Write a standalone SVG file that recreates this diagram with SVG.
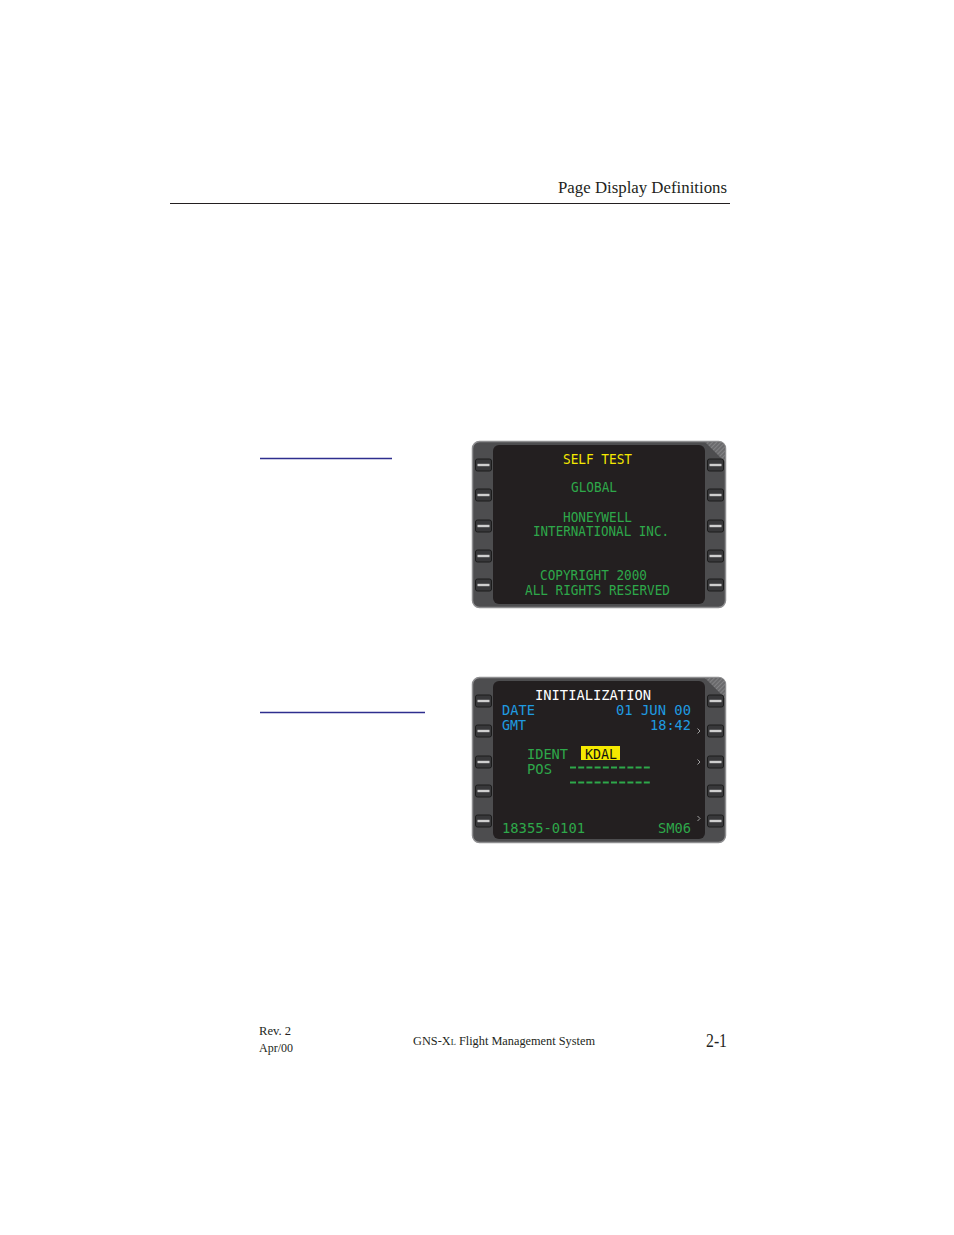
<svg xmlns="http://www.w3.org/2000/svg" width="954" height="1235" viewBox="0 0 954 1235">
<style>
.serif{font-family:"Liberation Serif","Times New Roman",serif;fill:#231f20}
.mono{font-family:"DejaVu Sans Mono","Liberation Mono",monospace;font-size:14.5px}
.g{fill:#2ea84a}.y{fill:#f5e900}.b{fill:#1f9be0}.w{fill:#ffffff}.k{fill:#111}
.bezel{fill:#4d4d4f;stroke:#8e8e90;stroke-width:1.5}
.screen{fill:#231f20}
.btn{fill:#38383a;stroke:#1c1c1c;stroke-width:1}
.bar{fill:#cfcfcf}
.chev{fill:none;stroke:#b0b0b0;stroke-width:0.9}
.link{stroke:#2e2e8e;stroke-width:1.3}
.dash{stroke:#2ea84a;stroke-width:2.2;stroke-dasharray:6 2.2}
</style>
<defs>
<pattern id="hatch" width="3" height="3" patternUnits="userSpaceOnUse" patternTransform="rotate(45)">
<rect width="3" height="3" fill="#6a6a6c"/>
<line x1="0" y1="0" x2="0" y2="3" stroke="#9a9a9c" stroke-width="1"/>
</pattern>
<g id="button"><rect class="btn" x="-8" y="-6" width="16" height="12" rx="2"/><rect class="bar" x="-6" y="-1.2" width="12" height="2.4"/></g>
</defs>

<g id="header">
<text class="serif" x="727" y="193" font-size="17" text-anchor="end" textLength="169" lengthAdjust="spacingAndGlyphs">Page Display Definitions</text>
<line x1="170" y1="203.5" x2="730" y2="203.5" stroke="#231f20" stroke-width="1"/>
</g>

<g id="links">
<line class="link" x1="260" y1="458.5" x2="392" y2="458.5"/>
<line class="link" x1="260" y1="712.5" x2="425" y2="712.5"/>
</g>

<g id="self-test-display">
<rect class="bezel" x="472.5" y="441.5" width="253" height="166" rx="7"/>
<path d="M705 442 L719 442 Q725 442 725 448 L725 462 Z" fill="url(#hatch)"/>
<rect class="screen" x="493" y="445" width="212" height="159" rx="6"/>
<use href="#button" x="483.5" y="465"/><use href="#button" x="483.5" y="495"/><use href="#button" x="483.5" y="526"/><use href="#button" x="483.5" y="556"/><use href="#button" x="483.5" y="585"/>
<use href="#button" x="715.5" y="465"/><use href="#button" x="715.5" y="495"/><use href="#button" x="715.5" y="526"/><use href="#button" x="715.5" y="556"/><use href="#button" x="715.5" y="585"/>
<text class="mono y" x="563" y="463.5" textLength="69" lengthAdjust="spacingAndGlyphs">SELF TEST</text>
<text class="mono g" x="571" y="491.5" textLength="46" lengthAdjust="spacingAndGlyphs">GLOBAL</text>
<text class="mono g" x="563" y="521.5" textLength="69" lengthAdjust="spacingAndGlyphs">HONEYWELL</text>
<text class="mono g" x="533" y="535.5" textLength="136" lengthAdjust="spacingAndGlyphs">INTERNATIONAL INC.</text>
<text class="mono g" x="540" y="579.5" textLength="107" lengthAdjust="spacingAndGlyphs">COPYRIGHT 2000</text>
<text class="mono g" x="525" y="594.5" textLength="145" lengthAdjust="spacingAndGlyphs">ALL RIGHTS RESERVED</text>
</g>

<g id="initialization-display">
<rect class="bezel" x="472.5" y="677.5" width="253" height="165" rx="7"/>
<path d="M705 678 L719 678 Q725 678 725 684 L725 698 Z" fill="url(#hatch)"/>
<rect class="screen" x="493" y="681" width="212" height="158" rx="6"/>
<use href="#button" x="483.5" y="701"/><use href="#button" x="483.5" y="731"/><use href="#button" x="483.5" y="762"/><use href="#button" x="483.5" y="791"/><use href="#button" x="483.5" y="821"/>
<use href="#button" x="715.5" y="701"/><use href="#button" x="715.5" y="731"/><use href="#button" x="715.5" y="762"/><use href="#button" x="715.5" y="791"/><use href="#button" x="715.5" y="821"/>
<text class="mono w" x="535" y="699.5" textLength="116" lengthAdjust="spacingAndGlyphs">INITIALIZATION</text>
<text class="mono b" x="502" y="714.5" textLength="33" lengthAdjust="spacingAndGlyphs">DATE</text>
<text class="mono b" x="616" y="714.5" textLength="75" lengthAdjust="spacingAndGlyphs">01 JUN 00</text>
<text class="mono b" x="502" y="729.5" textLength="24" lengthAdjust="spacingAndGlyphs">GMT</text>
<text class="mono b" x="650" y="729.5" textLength="41" lengthAdjust="spacingAndGlyphs">18:42</text>
<text class="mono g" x="527" y="758.5" textLength="41" lengthAdjust="spacingAndGlyphs">IDENT</text>
<rect x="581" y="746" width="39" height="14" fill="#f5e900"/>
<text class="mono k" x="585" y="758.5" textLength="32" lengthAdjust="spacingAndGlyphs">KDAL</text>
<text class="mono g" x="527" y="773.5" textLength="25" lengthAdjust="spacingAndGlyphs">POS</text>
<line class="dash" x1="570" y1="767.5" x2="652" y2="767.5"/>
<line class="dash" x1="570" y1="782.5" x2="652" y2="782.5"/>
<text class="mono g" x="502" y="832.5" textLength="83" lengthAdjust="spacingAndGlyphs">18355-0101</text>
<text class="mono g" x="658" y="832.5" textLength="33" lengthAdjust="spacingAndGlyphs">SM06</text>
<path class="chev" d="M697.5 728.5 L700 731 L697.5 733.5"/>
<path class="chev" d="M697.5 759.5 L700 762 L697.5 764.5"/>
<path class="chev" d="M697.5 816 L700 818.5 L697.5 821"/>
</g>

<g id="footer">
<text class="serif" x="259" y="1035" font-size="13" textLength="32" lengthAdjust="spacingAndGlyphs">Rev. 2</text>
<text class="serif" x="259" y="1052" font-size="13" textLength="34" lengthAdjust="spacingAndGlyphs">Apr/00</text>
<text class="serif" x="413" y="1045" font-size="13" textLength="182" lengthAdjust="spacingAndGlyphs">GNS-X<tspan font-size="9">L</tspan> Flight Management System</text>
<text class="serif" x="727" y="1047" font-size="18" text-anchor="end" textLength="21" lengthAdjust="spacingAndGlyphs">2-1</text>
</g>
</svg>
